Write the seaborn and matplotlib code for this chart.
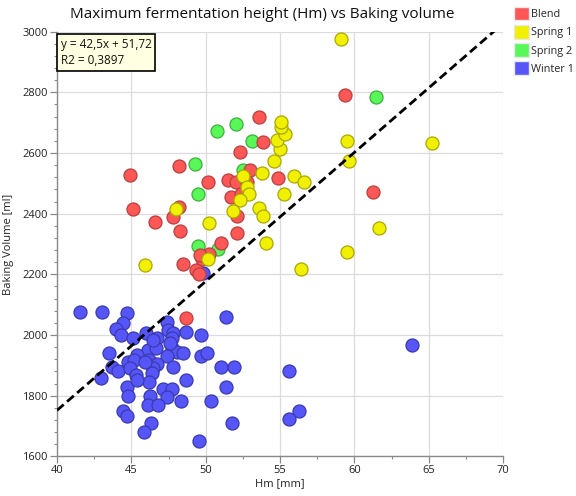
import matplotlib
matplotlib.use("Agg")
import matplotlib.pyplot as plt
from matplotlib.patches import Patch
from matplotlib.ticker import MultipleLocator
import numpy as np
import pandas as pd
import seaborn as sns

# Hm [mm] and baking volume [ml] per flour type
blend_hm = [44.94, 45.14, 46.61, 47.79, 48.18, 48.28, 48.18, 50.14, 53.58, 52.31,
            52.99, 51.52, 52.01, 52.80, 51.72, 52.40, 52.11, 52.11, 51.03, 50.24,
            49.75, 49.65, 49.36, 49.56, 48.48, 59.37, 53.88, 54.86, 61.24, 48.67]
blend_vol = [2528, 2415, 2372, 2388, 2421, 2344, 2556, 2504, 2717, 2603,
             2545, 2511, 2504, 2504, 2456, 2465, 2393, 2335, 2302, 2266,
             2250, 2264, 2215, 2201, 2234, 2792, 2636, 2518, 2472, 2055]

spring1_hm = [47.98, 52.50, 52.75, 52.89, 52.31, 51.82, 50.24, 50.14, 45.92, 59.52,
              59.61, 59.52, 56.43, 54.07, 55.25, 55.94, 56.62, 53.78, 54.63, 54.97,
              54.78, 55.36, 55.07, 55.07, 53.58, 53.83, 59.08, 65.25, 61.64]
spring1_vol = [2415, 2525, 2487, 2465, 2446, 2408, 2369, 2250, 2231, 2641,
               2575, 2275, 2217, 2302, 2465, 2525, 2504, 2534, 2575, 2614,
               2643, 2663, 2685, 2703, 2418, 2393, 2975, 2633, 2354]

spring2_hm = [49.27, 49.46, 50.74, 52.01, 53.09, 52.50, 50.84, 49.46, 61.44]
spring2_vol = [2564, 2464, 2674, 2694, 2641, 2545, 2283, 2294, 2783]

winter1_hm = [41.55, 43.00, 44.68, 44.46, 43.97, 44.28, 45.09, 45.99, 46.70, 47.42,
              47.49, 47.82, 47.71, 48.68, 49.68, 51.34, 43.52, 46.10, 46.66, 47.71,
              48.05, 48.50, 47.37, 45.36, 49.66, 50.07, 44.80, 45.18, 46.21, 46.75,
              46.48, 43.68, 44.12, 44.91, 47.78, 51.03, 51.93, 45.31, 46.37, 42.94,
              46.21, 48.68, 44.69, 45.36, 51.34, 47.15, 47.71, 44.80, 46.25, 47.37,
              48.32, 50.33, 46.14, 46.81, 44.46, 44.69, 51.75, 46.30, 45.85, 49.55,
              46.48, 47.60, 45.92, 49.84, 63.87, 55.62, 56.27, 55.62]
winter1_vol = [2077, 2077, 2072, 2041, 2019, 2000, 1989, 2006, 1989, 2042,
               2017, 2008, 1989, 2011, 2000, 2061, 1940, 1951, 1956, 1956,
               1943, 1942, 1932, 1934, 1931, 1940, 1912, 1918, 1918, 1905,
               1890, 1896, 1882, 1890, 1893, 1893, 1893, 1868, 1874, 1857,
               1846, 1852, 1830, 1852, 1830, 1821, 1821, 1799, 1799, 1797,
               1783, 1783, 1769, 1769, 1751, 1733, 1711, 1711, 1682, 1651,
               1984, 1973, 1912, 2203, 1967, 1881, 1750, 1722]

legend_order = ["Blend", "Spring 1", "Spring 2", "Winter 1"]
fill_colors = {"Blend": "#ff5656", "Spring 1": "#f0f000",
               "Spring 2": "#58f858", "Winter 1": "#5656f8"}
edge_colors = {"Blend": "#b84040", "Spring 1": "#a8a800",
               "Spring 2": "#3fae3f", "Winter 1": "#3a3ab0"}

# linear fit shown in the annotation box
slope = 42.5
intercept = 51.72
r2 = 0.3897

x_ticks = [40, 45, 50, 55, 60, 65, 70]
y_ticks = [1600, 1800, 2000, 2200, 2400, 2600, 2800, 3000]

frames = []
for name, hm, vol in [("Blend", blend_hm, blend_vol), ("Spring 1", spring1_hm, spring1_vol),
                      ("Spring 2", spring2_hm, spring2_vol), ("Winter 1", winter1_hm, winter1_vol)]:
    frames.append(pd.DataFrame({"Hm": hm, "Volume": vol, "Type": name}))
df = pd.concat(frames, ignore_index=True)

sns.set_theme(style="white")
plt.rcParams["font.family"] = ["Open Sans", "DejaVu Sans"]

fig = plt.figure(figsize=(5.76, 4.96), dpi=100)
ax = fig.add_axes([57 / 576, 1 - 456.4 / 496, (503 - 57) / 576, (456.4 - 31.6) / 496])

# draw order: winter at the back, spring 1 in front
for name in ["Winter 1", "Spring 2", "Blend", "Spring 1"]:
    sub = df[df["Type"] == name]
    sns.scatterplot(data=sub, x="Hm", y="Volume", ax=ax, s=88,
                    color=fill_colors[name], edgecolor=edge_colors[name],
                    linewidth=0.9, legend=False, zorder=3)

xs = np.array([x_ticks[0], x_ticks[-1]], dtype=float)
ax.plot(xs, slope * xs + intercept, color="black", lw=2.0,
        linestyle=(0, (3.2, 1.6)), zorder=4)

ax.set_xlim(x_ticks[0], x_ticks[-1])
ax.set_ylim(y_ticks[0], y_ticks[-1])
ax.set_xticks(x_ticks)
ax.set_yticks(y_ticks)
ax.xaxis.set_minor_locator(MultipleLocator(2.5))
ax.yaxis.set_minor_locator(MultipleLocator(40))
ax.grid(True, which="major", color="#dcdcdc", lw=0.9, zorder=0)
ax.set_axisbelow(True)

for side in ["top", "right"]:
    ax.spines[side].set_visible(False)
for side in ["left", "bottom"]:
    ax.spines[side].set_color("#8a8a8a")
    ax.spines[side].set_linewidth(1.0)
ax.tick_params(which="major", direction="out", length=5, width=0.9, color="#8a8a8a",
               labelsize=8, labelcolor="#222222", left=True, bottom=True, pad=1.5)
ax.tick_params(which="minor", direction="out", length=2.5, width=0.8, color="#8a8a8a",
               left=True, bottom=True)

ax.set_xlabel("Hm [mm]", fontsize=8, color="#222222", labelpad=1)
ax.set_ylabel("Baking Volume [ml]", fontsize=8, color="#222222", labelpad=6)

fig.text(262 / 576, 1 - 14 / 496, "Maximum fermentation height (Hm) vs Baking volume",
         ha="center", va="center", fontsize=11, color="#111111")

ax.text(0.008, 0.985, f"y = {slope:.1f}x + {intercept:.2f}\nR2 = {r2:.4f}".replace(".", ","),
        transform=ax.transAxes, ha="left", va="top", fontsize=8.5, color="#111111",
        linespacing=1.3,
        bbox=dict(boxstyle="square,pad=0.3", facecolor="#ffffe1", edgecolor="black", lw=1.2),
        zorder=6)

handles = [Patch(facecolor=fill_colors[n], edgecolor="#e8e8e8", label=n) for n in legend_order]
fig.legend(handles=handles, loc="upper left", bbox_to_anchor=(507 / 576, 1.0), frameon=False,
           fontsize=7.8, handlelength=1.4, handleheight=1.6, handletextpad=0.2,
           labelspacing=0.4, borderaxespad=0.2)

fig.savefig("out.png", dpi=100)
